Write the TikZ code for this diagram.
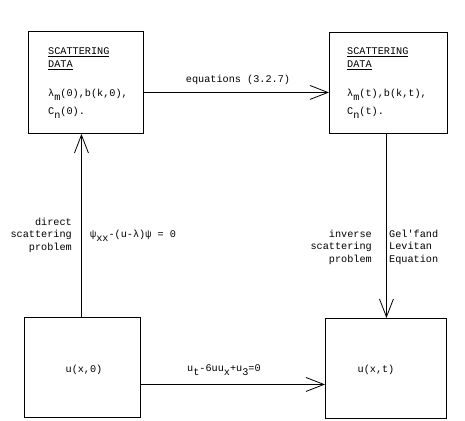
\documentclass[tikz,border=0pt]{standalone}
\usepackage{fontspec}
\setmainfont{Liberation Mono}
\usetikzlibrary{arrows.meta}
\newcommand\sbs[1]{\raisebox{-4pt}{#1}}
\begin{document}
\begin{tikzpicture}[x=1pt,y=-1pt,
  box/.style={draw, line width=0.9pt, inner sep=0pt, anchor=north west},
  arr/.style={line width=0.8pt, -{Straight Barb[length=18pt,width=14pt,line width=0.8pt]}},
  txt/.style={font=\fontsize{10.2}{12.5}\selectfont, inner sep=0pt},
  lbl/.style={txt, anchor=west}]
\useasboundingbox (0,0) rectangle (465,420);
\node[box, minimum width=115pt, minimum height=102pt] (tl) at (28,31) {};
\node[box, minimum width=118pt, minimum height=101pt] (tr) at (329,32) {};
\node[box, minimum width=116pt, minimum height=100pt] (bl) at (24,317) {};
\node[box, minimum width=121pt, minimum height=100pt] (br) at (325,318) {};
% texts inside top-left
\node[lbl] (a1) at (48,52) {\underline{SCATTERING}};
\node[lbl] (a2) at (48,65) {\underline{DATA}};
\node[lbl] (a3) at (48,95) {λ\sbs{m}(0),b(k,0),};
\node[lbl] (a4) at (48,113) {C\sbs{n}(0).};
% texts inside top-right
\node[lbl] (b1) at (347,52) {\underline{SCATTERING}};
\node[lbl] (b2) at (347,65) {\underline{DATA}};
\node[lbl] (b3) at (347,95) {λ\sbs{m}(t),b(k,t),};
\node[lbl] (b4) at (347,113) {C\sbs{n}(t).};
% bottom boxes
\node[txt] (c1) at (84,370) {u(x,0)};
\node[txt] (c2) at (376,370) {u(x,t)};
% arrows
\draw[arr] ([yshift=-10pt]tl.east) -- ([yshift=-10pt]tl.east -| tr.west);
\draw[arr] ([xshift=-1pt]bl.north) -- ([xshift=-1pt]bl.north |- tl.south);
\draw[arr] ([xshift=-2pt]tr.south) -- ([xshift=-2pt]tr.south |- br.north);
\draw[arr] ([yshift=-17pt]bl.east) -- ([yshift=-17pt]bl.east -| br.west);
% labels
\node[txt] (e1) at (238,80) {equations (3.2.7)};
\node[txt, anchor=east, align=right] (d1) at (72,235) {direct\\scattering\\problem};
\node[lbl] (d2) at (90,236) {ψ\sbs{xx}-(u-λ)ψ = 0};
\node[txt, anchor=east, align=right] (i1) at (372,247) {inverse\\scattering\\problem};
\node[txt, anchor=west, align=left] (i2) at (389,247) {Gel\textquotesingle fand\\Levitan\\Equation};
\node[lbl] (k1) at (187,370) {u\sbs{t}-6uu\sbs{x}+u\sbs{3}=0};
\end{tikzpicture}
\end{document}
